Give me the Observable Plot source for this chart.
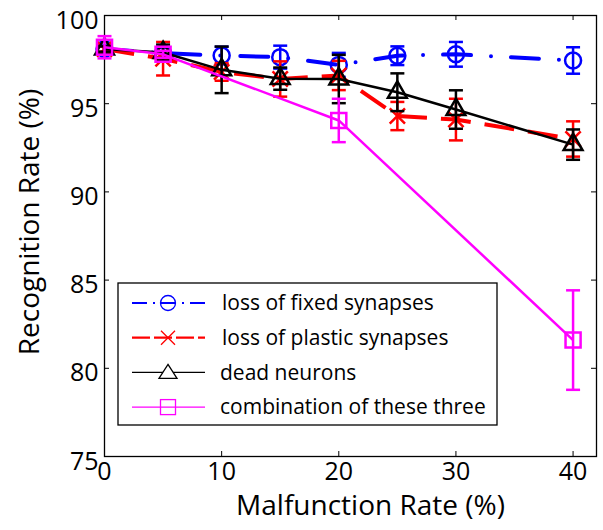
<!DOCTYPE html>
<html><head><meta charset="utf-8">
<script src="https://cdn.jsdelivr.net/npm/d3@7"></script>
<script src="https://cdn.jsdelivr.net/npm/@observablehq/plot@0.6"></script>
<style>
body{margin:0;background:#fff;}
#wrap{position:relative;width:603px;height:530px;}
#wrap svg.legend{position:absolute;left:0;top:0;}
</style></head><body><div id="wrap"></div>
<script>
// ---- data ----
const xVals = [0, 5, 10, 15, 20, 25, 30, 40];
const fixedMean = [98.1, 97.86, 97.73, 97.64, 97.2, 97.72, 97.8, 97.45];
const fixedErr = [0.2, 0.3, 0.5, 0.65, 0.68, 0.53, 0.7, 0.75];
const plasticMean = [98.1, 97.55, 96.8, 96.4, 96.6, 94.3, 94.1, 93.0];
const plasticErr = [0.15, 0.95, 0.5, 1.0, 0.83, 0.8, 1.18, 1.0];
const deadMean = [98.1, 97.9, 96.92, 96.42, 96.4, 95.65, 94.67, 92.68];
const deadErr = [0.15, 0.45, 1.32, 0.63, 1.37, 1.07, 1.09, 0.86];
const comboX = [0, 5, 20, 40];
const comboMean = [98.2, 97.8, 94.05, 81.6];
const comboErr = [0.63, 0.2, 1.23, 2.82];
const seriesNames = ["loss of fixed synapses", "loss of plastic synapses", "dead neurons", "combination of these three"];
const xTicks = [0, 10, 20, 30, 40];
const yTicks = [75, 80, 85, 90, 95, 100];
const xLabel = "Malfunction Rate (%)";
const yLabel = "Recognition Rate (%)";

// ---- layout ----
const W = 603, H = 530, mL = 104, mR = 7, mT = 15, mB = 74;
const innerW = W - mL - mR, innerH = H - mT - mB;
const font = "'Open Sans', sans-serif";

const rows = (xs, m, e) => xs.map((x, i) => ({x, y: m[i], lo: m[i] - e[i], hi: m[i] + e[i]}));
const cap = {draw(ctx) { ctx.moveTo(-7, 0); ctx.lineTo(7, 0); }};

function group(data, color, lineW, dash, cap_, symbol, r) {
  return [
    Plot.line(data, {x: "x", y: "y", stroke: color, strokeWidth: lineW, strokeDasharray: dash, strokeLinecap: cap_}),
    Plot.ruleX(data, {x: "x", y1: "lo", y2: "hi", stroke: color, strokeWidth: 2.5}),
    Plot.dot(data, {x: "x", y: "lo", symbol: cap, stroke: color, strokeWidth: 2.5}),
    Plot.dot(data, {x: "x", y: "hi", symbol: cap, stroke: color, strokeWidth: 2.5}),
    Plot.dot(data, {x: "x", y: "y", symbol, r, stroke: color, strokeWidth: 2.5, fill: "none"})
  ];
}

const chart = Plot.plot({
  width: W, height: H,
  marginLeft: mL, marginRight: mR, marginTop: mT, marginBottom: mB,
  style: {fontFamily: font, fontSize: "25px", background: "white", color: "black"},
  x: {domain: [0, 42]},
  y: {domain: [75, 100]},
  marks: [
    Plot.frame({stroke: "black", strokeWidth: 1.3}),
    Plot.tickX(xTicks, {x: d => d, insetTop: innerH - 5, stroke: "black"}),
    Plot.tickX(xTicks, {x: d => d, insetBottom: innerH - 5, stroke: "black"}),
    Plot.tickY(yTicks, {y: d => d, insetRight: innerW - 5, stroke: "black"}),
    Plot.tickY(yTicks, {y: d => d, insetLeft: innerW - 5, stroke: "black"}),
    Plot.axisX({ticks: xTicks, tickSize: 0, tickPadding: 6, label: null, tickFormat: d => d}),
    Plot.axisY({ticks: yTicks, tickSize: 0, tickPadding: 6, label: null, tickFormat: d => d, dy: 5}),
    ...group(rows(xVals, fixedMean, fixedErr), "#0000ff", 4, "28,20,0,20", "round", "circle", 8),
    ...group(rows(xVals, plasticMean, plasticErr), "#ff0000", 4, "30,14", "butt", "times", 7),
    ...group(rows(xVals, deadMean, deadErr), "#000000", 2.5, null, "butt", "triangle", 7),
    ...group(rows(comboX, comboMean, comboErr), "#ff00ff", 2.5, null, "butt", "square", 8.5),
    Plot.text([xLabel], {text: d => d, frameAnchor: "bottom", textAnchor: "middle", dy: 58, dx: 20, fontSize: 28}),
    Plot.text([yLabel], {text: d => d, frameAnchor: "left", textAnchor: "middle", rotate: -90, dx: -74, dy: -14, fontSize: 28})
  ]
});
const wrap = document.getElementById("wrap");
wrap.appendChild(chart);

// ---- legend overlay ----
const leg = d3.create("svg").attr("class", "legend").attr("width", W).attr("height", H)
  .style("font-family", font);
leg.append("rect").attr("x", 118).attr("y", 283).attr("width", 379).attr("height", 142)
  .attr("fill", "white").attr("stroke", "black").attr("stroke-width", 1.3);
const legItems = [
  {color: "#0000ff", dash: "15,6,2,6", w: 2, sym: "circle"},
  {color: "#ff0000", dash: "18,4", w: 2.2, sym: "times"},
  {color: "#000000", dash: null, w: 1.2, sym: "triangle"},
  {color: "#ff00ff", dash: null, w: 1.2, sym: "square"}
];
legItems.forEach((it, i) => {
  const y = 303 + i * 34.7;
  const g = leg.append("g");
  g.append("line").attr("x1", 132).attr("x2", 205).attr("y1", y).attr("y2", y)
    .attr("stroke", it.color).attr("stroke-width", it.w).attr("stroke-dasharray", it.dash);
  const cx = 168;
  if (it.sym === "circle") g.append("circle").attr("cx", cx).attr("cy", y).attr("r", 7.5).attr("fill", "none").attr("stroke", it.color).attr("stroke-width", 1.3);
  if (it.sym === "times") g.append("path").attr("d", `M${cx-7},${y-7}L${cx+7},${y+7}M${cx-7},${y+7}L${cx+7},${y-7}`).attr("stroke", it.color).attr("stroke-width", 1.3);
  if (it.sym === "triangle") g.append("path").attr("d", `M${cx},${y-8}L${cx+9},${y+6}L${cx-9},${y+6}Z`).attr("fill", "white").attr("stroke", it.color).attr("stroke-width", 1.3);
  if (it.sym === "square") g.append("rect").attr("x", cx - 7.5).attr("y", y - 7.5).attr("width", 15).attr("height", 15).attr("fill", "none").attr("stroke", it.color).attr("stroke-width", 1.3);
  g.append("text").attr("x", i < 2 ? 222 : 220).attr("y", y).attr("dy", "0.35em")
    .attr("font-size", 21).attr("fill", "black").text(seriesNames[i]);
});
wrap.appendChild(leg.node());
</script></body></html>
